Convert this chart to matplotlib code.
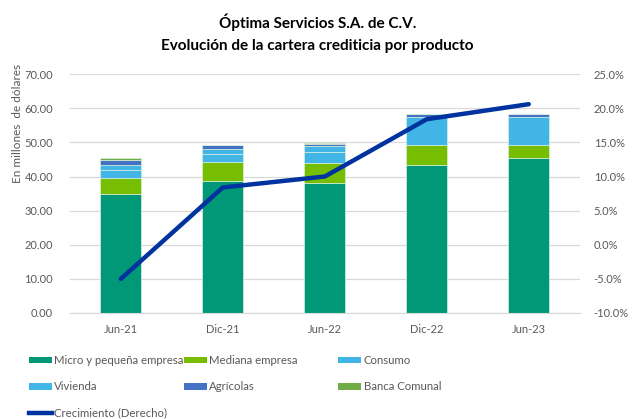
import numpy as np
import matplotlib.pyplot as plt
from matplotlib.patches import Patch
from matplotlib.lines import Line2D

plt.rcParams['font.family'] = ['Lato', 'DejaVu Sans']

# datos
periodos = ['Jun-21', 'Dic-21', 'Jun-22', 'Dic-22', 'Jun-23']
micro = [35.0, 38.7, 38.1, 43.4, 45.3]
mediana = [4.7, 5.6, 5.9, 5.7, 3.9]
consumo = [2.2, 2.3, 3.2, 8.3, 8.2]
vivienda = [1.5, 1.5, 1.7, 0.0, 0.0]
agricolas = [1.3, 1.0, 0.7, 0.8, 0.9]
banca_comunal = [0.7, 0.2, 0.2, 0.2, 0.1]
crecimiento = [-5.0, 8.4, 10.0, 18.4, 20.6]

series = [
    ('Micro y pequeña empresa', micro, '#009877'),
    ('Mediana empresa', mediana, '#78BE00'),
    ('Consumo', consumo, '#41B6E6'),
    ('Vivienda', vivienda, '#41B6E6'),
    ('Agrícolas', agricolas, '#4472C4'),
    ('Banca Comunal', banca_comunal, '#70AD47'),
]
color_linea = '#0033A0'
gris = '#595959'

fig = plt.figure(figsize=(6.35, 4.19), dpi=100)
ax = fig.add_axes([0.110, 0.253, 0.803, 0.570])
x = np.arange(len(periodos))

base = np.zeros(len(periodos))
for nombre, vals, col in series:
    ax.bar(x, vals, 0.4, bottom=base, color=col, edgecolor='#D8EEE0', linewidth=0.5, zorder=2)
    base += np.array(vals)

ax.set_ylim(0, 70)
ax.set_xlim(-0.5, len(periodos) - 0.5)
ax.set_yticks(np.arange(0, 71, 10))
ax.set_yticklabels([f'{v:.2f}' for v in np.arange(0, 71, 10)])
ax.set_xticks(x)
ax.set_xticklabels(periodos)
ax.grid(axis='y', color='#D9D9D9', linewidth=0.9, zorder=0)
for s in ['top', 'right', 'left']:
    ax.spines[s].set_visible(False)
ax.spines['bottom'].set_color('#D9D9D9')
ax.tick_params(axis='both', length=0, colors=gris, labelsize=8)
ax.tick_params(axis='y', pad=12)
ax.tick_params(axis='x', pad=8)
fig.text(18 / 635, 1 - 123 / 419, 'En millones  de dólares', rotation=90,
         ha='center', va='center', color=gris, fontsize=8.5)

ax2 = ax.twinx()
ax2.plot(x, crecimiento, color=color_linea, linewidth=3.2, solid_capstyle='round', zorder=5)
ax2.set_ylim(-10, 25)
ax2.set_yticks(np.arange(-10, 26, 5))
ax2.set_yticklabels([f'{v:.1f}%' for v in np.arange(-10, 26, 5)])
ax2.tick_params(axis='y', length=0, colors=gris, labelsize=8, pad=10)
for s in ['top', 'right', 'left', 'bottom']:
    ax2.spines[s].set_visible(False)

fig.text(0.5, 0.947, 'Óptima Servicios S.A. de C.V.', ha='center', va='center',
         fontsize=11, fontweight='bold')
fig.text(0.5, 0.890, 'Evolución de la cartera crediticia por producto', ha='center',
         va='center', fontsize=11, fontweight='bold')

# leyenda en tres columnas
h = {n: Patch(facecolor=c) for n, _, c in series}
h['Crecimiento (Derecho)'] = Line2D([], [], color=color_linea, linewidth=3.2)
columnas = [
    (0.046, ['Micro y pequeña empresa', 'Vivienda', 'Crecimiento (Derecho)']),
    (0.290, ['Mediana empresa', 'Agrícolas']),
    (0.533, ['Consumo', 'Banca Comunal']),
]
for xpos, nombres in columnas:
    fig.legend([h[n] for n in nombres], nombres, loc='upper left',
               bbox_to_anchor=(xpos, 1 - 355 / 419), frameon=False, fontsize=8.2,
               handlelength=2.0, handleheight=0.55, handletextpad=0.2,
               labelspacing=1.35, borderaxespad=0, borderpad=0,
               labelcolor=gris)

fig.savefig('out.png', dpi=100)
